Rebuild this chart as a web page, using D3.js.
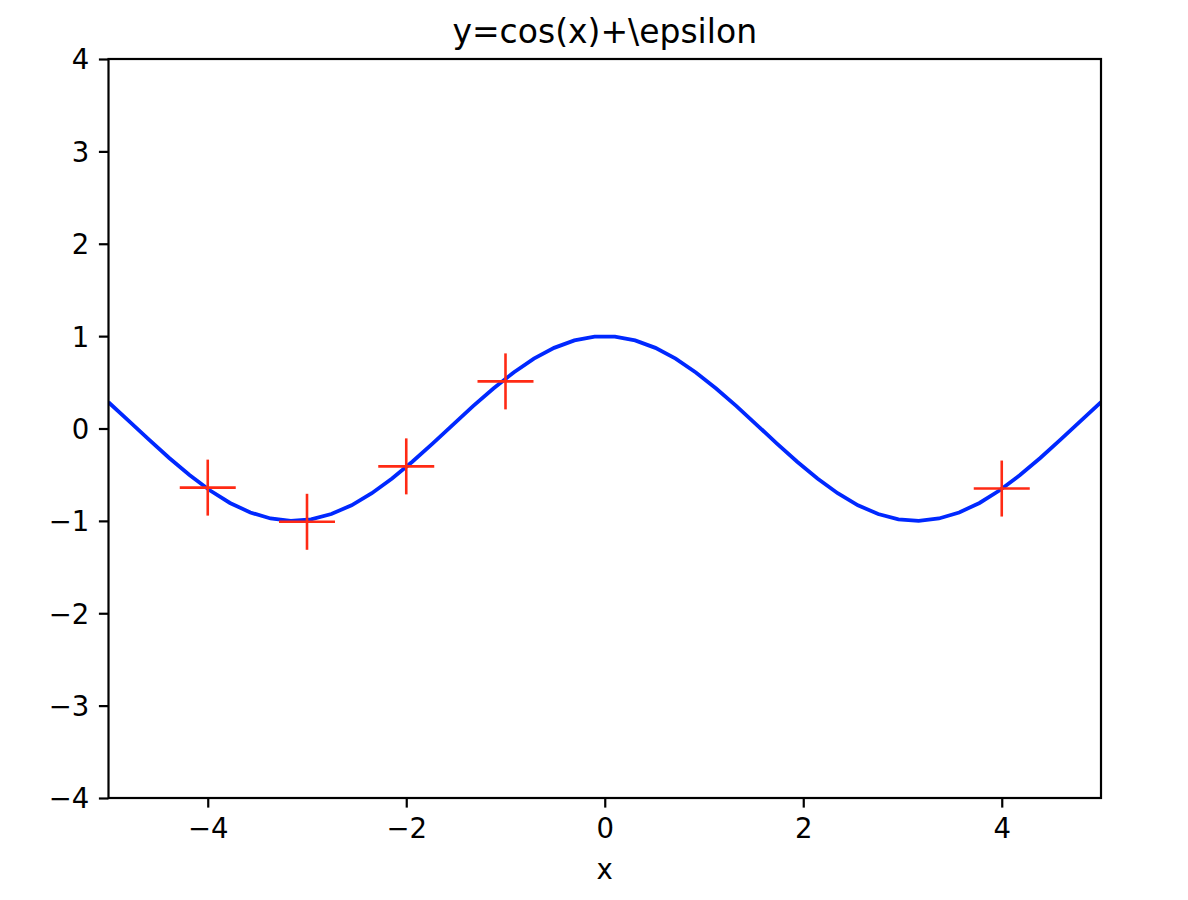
<!DOCTYPE html>
<html>
<head>
<meta charset="utf-8">
<script src="https://cdn.jsdelivr.net/npm/d3@7"></script>
<style>
  body { margin: 0; background: #fff; }
  text { font-family: "DejaVu Sans", sans-serif; fill: #000; }
</style>
</head>
<body>
<div id="chartArea"></div>
<script>
// curve samples (50 points over -5..5)
var curveX = [-5.000, -4.796, -4.592, -4.388, -4.184, -3.980, -3.776, -3.571, -3.367, -3.163,
              -2.959, -2.755, -2.551, -2.347, -2.143, -1.939, -1.735, -1.531, -1.327, -1.122,
              -0.918, -0.714, -0.510, -0.306, -0.102, 0.102, 0.306, 0.510, 0.714, 0.918,
              1.122, 1.327, 1.531, 1.735, 1.939, 2.143, 2.347, 2.551, 2.755, 2.959,
              3.163, 3.367, 3.571, 3.776, 3.980, 4.184, 4.388, 4.592, 4.796, 5.000];
var curveY = [0.284, 0.083, -0.120, -0.319, -0.504, -0.669, -0.806, -0.909, -0.974, -1.000,
              -0.983, -0.926, -0.831, -0.701, -0.541, -0.360, -0.163, 0.040, 0.242, 0.433,
              0.607, 0.756, 0.873, 0.954, 0.995, 0.995, 0.954, 0.873, 0.756, 0.607,
              0.433, 0.242, 0.040, -0.163, -0.360, -0.541, -0.701, -0.831, -0.926, -0.983,
              -1.000, -0.974, -0.909, -0.806, -0.669, -0.504, -0.319, -0.120, 0.083, 0.284];
// noisy observations
var obsX = [-4, -3, -2, -1, 4];
var obsY = [-0.64, -1.01, -0.41, 0.51, -0.65];

var xTicks = [-4, -2, 0, 2, 4];
var yTicks = [-4, -3, -2, -1, 0, 1, 2, 3, 4];

var width = 1188, height = 900;
var margin = {top: 59, right: 87, bottom: 102, left: 108.5};
var iw = width - margin.left - margin.right;
var ih = height - margin.top - margin.bottom;

var fmt = function(d) { return d < 0 ? "\u2212" + Math.abs(d) : String(d); };

var xscale = d3.scaleLinear().domain([-5, 5]).range([0, iw]);
var yscale = d3.scaleLinear().domain([-4, 4]).range([ih, 0]);

var svg = d3.select('#chartArea').append('svg')
    .attr("width", width)
    .attr("height", height);

svg.append("rect").attr("width", width).attr("height", height).attr("fill", "#fff");

var g = svg.append("g")
    .attr("transform", "translate(" + margin.left + "," + margin.top + ")");

g.append("defs").append("clipPath").attr("id", "clip")
    .append("rect").attr("width", iw).attr("height", ih);

var line = d3.line()
    .x(function(d, i) { return xscale(curveX[i]); })
    .y(function(d, i) { return yscale(curveY[i]); });

g.append("path")
    .datum(curveY)
    .attr("clip-path", "url(#clip)")
    .attr("d", line)
    .attr("fill", "none")
    .attr("stroke", "#0028ff")
    .attr("stroke-width", 3.8);

// plus markers
var half = 28;
var marks = g.append("g").selectAll("g").data(obsX).enter().append("g")
    .attr("transform", function(d, i) { return "translate(" + xscale(d) + "," + yscale(obsY[i]) + ")"; });
marks.append("line").attr("x1", -half).attr("x2", half).attr("y1", 0).attr("y2", 0);
marks.append("line").attr("x1", 0).attr("x2", 0).attr("y1", -half).attr("y2", half);
marks.selectAll("line").attr("stroke", "#ff2a14").attr("stroke-width", 2.6);

// axes
var xAxis = d3.axisBottom(xscale).tickValues(xTicks).tickFormat(fmt).tickSize(9.6).tickPadding(9.6);
var yAxis = d3.axisLeft(yscale).tickValues(yTicks).tickFormat(fmt).tickSize(9.6).tickPadding(9.6);

var gx = g.append("g").attr("transform", "translate(0," + ih + ")").call(xAxis);
var gy = g.append("g").call(yAxis);
[gx, gy].forEach(function(a) {
    a.select(".domain").remove();
    a.selectAll(".tick line").attr("stroke", "#000").attr("stroke-width", 2.2);
    a.selectAll(".tick text").style("font-size", "27.5px").attr("fill", "#000");
});
gx.selectAll(".tick text").attr("dy", "0.76em");
gy.selectAll(".tick text").attr("dy", "0.36em");

// frame
g.append("rect")
    .attr("width", iw).attr("height", ih)
    .attr("fill", "none").attr("stroke", "#000").attr("stroke-width", 2.2);

// labels
svg.append("text")
    .attr("x", margin.left + iw / 2).attr("y", 42.5)
    .attr("text-anchor", "middle")
    .style("font-size", "33px")
    .text("y=cos(x)+\\epsilon");

svg.append("text")
    .attr("x", margin.left + iw / 2).attr("y", 879)
    .attr("text-anchor", "middle")
    .style("font-size", "27.5px")
    .text("x");
</script>
</body>
</html>
